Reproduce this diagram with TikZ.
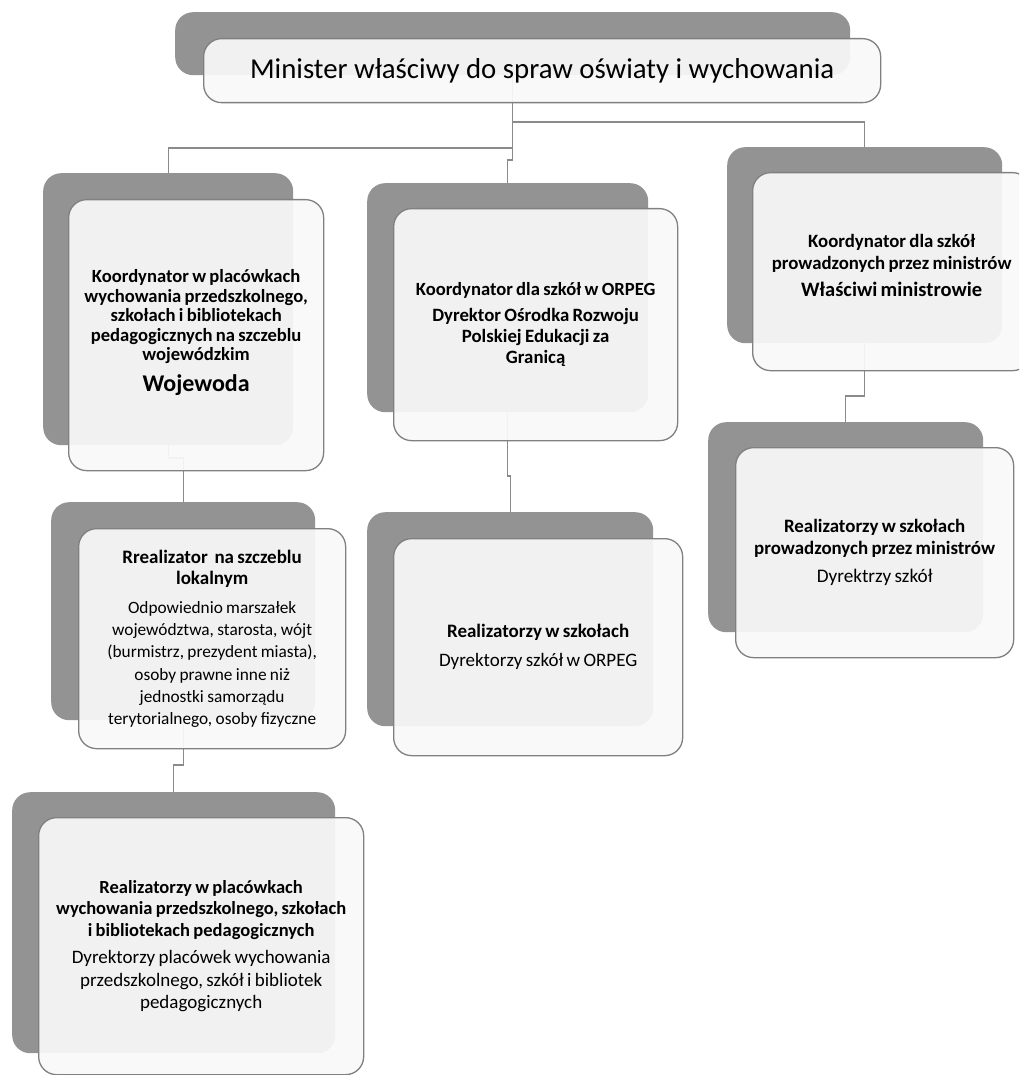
\documentclass[tikz,border=0pt]{standalone}
\usepackage{fontspec}
\setmainfont{Carlito}
\usetikzlibrary{calc}
\definecolor{backgray}{HTML}{939393}
\definecolor{edgegray}{HTML}{808080}
\definecolor{linegray}{HTML}{8A8A8A}
\definecolor{frontfill}{HTML}{F9F9F9}
\newcommand\bt[3]{{\fontsize{#1}{#2}\selectfont\bfseries #3\par}}
\newcommand\nt[3]{{\fontsize{#1}{#2}\selectfont #3\par}}
\begin{document}
\begin{tikzpicture}[x=1pt,y=-1pt,
  backbox/.style={fill=backgray, draw=none, rounded corners=18pt, anchor=north west, inner sep=0pt},
  frontbox/.style={fill=frontfill, fill opacity=0.93, text opacity=1, draw=edgegray, line width=1.3pt,
     rounded corners=18pt, anchor=north west, inner sep=0pt, align=center},
  conn/.style={draw=linegray, line width=1.3pt}]
\clip (0,0) rectangle (1019,1075);
\fill[white] (0,0) rectangle (1019,1075);

% ---------- back boxes ----------
\node[backbox, minimum width=675pt, minimum height=63pt] (topb) at (175,12) {};
\node[backbox, minimum width=250pt, minimum height=272pt] (lb) at (43,173) {};
\node[backbox, minimum width=281pt, minimum height=229pt] (mb) at (367,183) {};
\node[backbox, minimum width=275pt, minimum height=196pt] (rb) at (727,147) {};
\node[backbox, minimum width=264pt, minimum height=218pt] (lmb) at (51,502) {};
\node[backbox, minimum width=286pt, minimum height=214pt] (mlb) at (367,512) {};
\node[backbox, minimum width=275pt, minimum height=210pt] (rlb) at (708,422) {};
\node[backbox, minimum width=323pt, minimum height=261pt] (botb) at (12,792) {};

% ---------- connectors ----------
\coordinate (h1) at (0,148);
\coordinate (h2) at (0,122);
\coordinate (h3) at (0,458);
\coordinate (h4) at (0,765);
\coordinate (h5) at (0,396);
\coordinate (h6) at (0,160);
\coordinate (h7) at (0,476);
\draw[conn] (topb.south) -- (topb.south |- h1) -| (lb.north);
\draw[conn] (topb.south |- h1) -- (topb.south |- h6) -| (mb.north);
\draw[conn] (topb.south |- h2) -| (rb.north);
\draw[conn] (lb.south) -- (lb.south |- h3) -| (lmb.north);
\draw[conn] (lmb.south) -- (lmb.south |- h4) -| (botb.north);
\draw[conn] (mb.south) -- (mb.south |- h7) -| (mlb.north);
\draw[conn] (rb.south) -- (rb.south |- h5) -| (rlb.north);

% ---------- front boxes ----------
\node[frontbox, minimum width=677pt, minimum height=64pt] (top) at (203,38)
  {\fontsize{28.8}{32}\selectfont Minister właściwy do spraw oświaty i wychowania};
\node[frontbox, minimum width=255pt, minimum height=271pt, text width=252pt, text height=8pt] (l) at (68,199)
  {\bt{18.6}{19.4}{Koordynator w placówkach\\wychowania przedszkolnego,\\szkołach i bibliotekach\\pedagogicznych na szczeblu\\wojewódzkim}\vspace{5pt}\bt{24}{26}{Wojewoda}};
\node[frontbox, minimum width=284pt, minimum height=232pt, text width=280pt] (m) at (393,208)
  {\bt{18.6}{21}{Koordynator dla szkół w ORPEG}\vspace{5pt}\bt{18.8}{21}{Dyrektor Ośrodka Rozwoju\\Polskiej Edukacji za\\Granicą}};
\node[frontbox, minimum width=278pt, minimum height=198pt, text width=270pt, text height=1pt] (r) at (752,172)
  {\bt{18.8}{22}{Koordynator dla szkół\\prowadzonych przez ministrów}\vspace{3pt}\bt{20.5}{24}{Właściwi ministrowie}};
\node[frontbox, minimum width=267pt, minimum height=220pt, text width=262pt] (lm) at (78,528)
  {\bt{19}{21}{Rrealizator\ \ na szczeblu\\lokalnym}\vspace{7pt}\nt{17.3}{22.2}{Odpowiednio marszałek\\województwa, starosta, wójt\\(burmistrz, prezydent miasta),\\osoby prawne inne niż\\jednostki samorządu\\terytorialnego, osoby fizyczne}};
\node[frontbox, minimum width=289pt, minimum height=217pt, text width=280pt] (ml) at (393,538)
  {\bt{19}{22}{Realizatorzy w szkołach}\vspace{7pt}\nt{19}{22}{Dyrektorzy szkół w ORPEG}};
\node[frontbox, minimum width=278pt, minimum height=210pt, text width=272pt] (rl) at (735,447)
  {\bt{18.9}{22}{Realizatorzy w szkołach\\prowadzonych przez ministrów}\vspace{6pt}\nt{19.2}{22}{Dyrektrzy szkół}};
\node[frontbox, minimum width=325pt, minimum height=257pt, text width=320pt] (bot) at (38,817)
  {\bt{18.5}{21.5}{Realizatorzy w placówkach\\wychowania przedszkolnego, szkołach\\i bibliotekach pedagogicznych}\vspace{5pt}\nt{19}{22.5}{Dyrektorzy placówek wychowania\\przedszkolnego, szkół i bibliotek\\pedagogicznych}};
\end{tikzpicture}
\end{document}
